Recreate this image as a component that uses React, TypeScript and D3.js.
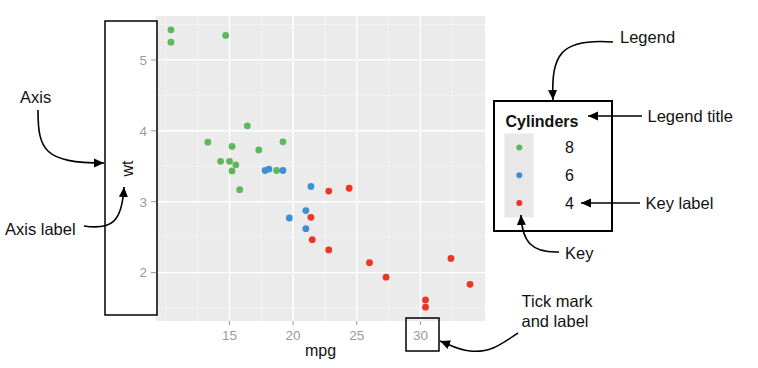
import React from "react";
import * as d3 from "d3";

// mtcars: mpg, wt, cyl
const mpg = [21.0, 21.0, 22.8, 21.4, 18.7, 18.1, 14.3, 24.4, 22.8, 19.2, 17.8, 16.4, 17.3, 15.2, 10.4, 10.4,
  14.7, 32.4, 30.4, 33.9, 21.5, 15.5, 15.2, 13.3, 19.2, 27.3, 26.0, 30.4, 15.8, 19.7, 15.0, 21.4];
const wt = [2.62, 2.875, 2.32, 3.215, 3.44, 3.46, 3.57, 3.19, 3.15, 3.44, 3.44, 4.07, 3.73, 3.78, 5.25, 5.424,
  5.345, 2.2, 1.615, 1.835, 2.465, 3.52, 3.435, 3.84, 3.845, 1.935, 2.14, 1.513, 3.17, 2.77, 3.57, 2.78];
const cyl = [6, 6, 4, 6, 8, 6, 8, 4, 4, 6, 6, 8, 8, 8, 8, 8, 8, 4, 4, 4, 4, 8, 8, 8, 8, 4, 4, 4, 8, 6, 8, 4];

const cylLevels = [8, 6, 4];
const cylColors = ["#5cb85a", "#3d8fd1", "#ee3424"];
const xTicks = [15, 20, 25, 30];
const xMinor = [10, 12.5, 17.5, 22.5, 27.5, 32.5];
const yTicks = [2, 3, 4, 5];
const yMinor = [1.5, 2.5, 3.5, 4.5, 5.5];

const FONT = "'Liberation Sans', Arial, Helvetica, sans-serif";

function expand(ext: [number, number]): [number, number] {
  const pad = (ext[1] - ext[0]) * 0.05;
  return [ext[0] - pad, ext[1] + pad];
}

const App: React.FC = () => {
  const width = 758;
  const height = 368;
  const panel = { left: 156, right: 485, top: 16, bottom: 321 };

  const x = d3.scaleLinear().domain(expand(d3.extent(mpg) as [number, number])).range([panel.left, panel.right]);
  const y = d3.scaleLinear().domain(expand(d3.extent(wt) as [number, number])).range([panel.bottom, panel.top]);
  const color = d3.scaleOrdinal<number, string>().domain(cylLevels).range(cylColors);

  const legendY = d3.scalePoint<number>().domain(cylLevels).range([147.5, 203]);

  return (
    <svg width={width} height={height} style={{ position: "absolute", left: 0, top: 0, background: "#fff" }}
      fontFamily={FONT}>
      <defs>
        <marker id="arrow" viewBox="0 0 10 10" refX="10" refY="5" markerWidth="10" markerHeight="10"
          markerUnits="userSpaceOnUse" orient="auto">
          <path d="M0,0.5 L10,5 L0,9.5 Z" fill="#000" />
        </marker>
      </defs>

      {/* panel */}
      <rect x={panel.left} y={panel.top} width={panel.right - panel.left} height={panel.bottom - panel.top}
        fill="#ebebeb" />
      {xMinor.map(v => (
        <line key={"xm" + v} x1={x(v)} x2={x(v)} y1={panel.top} y2={panel.bottom} stroke="#f5f5f5" strokeWidth={0.8} />
      ))}
      {yMinor.map(v => (
        <line key={"ym" + v} y1={y(v)} y2={y(v)} x1={panel.left} x2={panel.right} stroke="#f5f5f5" strokeWidth={0.8} />
      ))}
      {xTicks.map(v => (
        <line key={"xg" + v} x1={x(v)} x2={x(v)} y1={panel.top} y2={panel.bottom} stroke="#fff" strokeWidth={1.4} />
      ))}
      {yTicks.map(v => (
        <line key={"yg" + v} y1={y(v)} y2={y(v)} x1={panel.left} x2={panel.right} stroke="#fff" strokeWidth={1.4} />
      ))}

      {/* points */}
      {mpg.map((m, i) => (
        <circle key={i} cx={x(m)} cy={y(wt[i])} r={3.4} fill={color(cyl[i])} />
      ))}

      {/* axes */}
      {xTicks.map(v => (
        <g key={"xt" + v}>
          <line x1={x(v)} x2={x(v)} y1={panel.bottom} y2={panel.bottom + 4} stroke="#999" />
          <text x={x(v)} y={340} textAnchor="middle" fontSize={13.5} fill="#9a9a9a">{v}</text>
        </g>
      ))}
      {yTicks.map(v => (
        <g key={"yt" + v}>
          <line x1={panel.left - 5} x2={panel.left} y1={y(v)} y2={y(v)} stroke="#999" />
          <text x={147} y={y(v)} dy="0.36em" textAnchor="end" fontSize={13.5} fill="#9a9a9a">{v}</text>
        </g>
      ))}
      <text x={(panel.left + panel.right) / 2} y={356} textAnchor="middle" fontSize={16} fill="#111">mpg</text>
      <text transform={`translate(133,${(panel.top + panel.bottom) / 2}) rotate(-90)`} textAnchor="middle"
        fontSize={16} fill="#111">wt</text>

      {/* legend */}
      <rect x={494} y={101} width={118} height={130} fill="#fff" stroke="#000" strokeWidth={2} />
      <text x={505.5} y={126.5} fontSize={16} fontWeight="bold" fill="#111">Cylinders</text>
      <rect x={504.5} y={133.5} width={29} height={84} fill="#e8e8e8" />
      {cylLevels.map(c => (
        <g key={"lg" + c}>
          <circle cx={519.3} cy={legendY(c)} r={3} fill={color(c)} />
          <text x={565} y={legendY(c)} dy="0.36em" fontSize={16} fill="#111">{c}</text>
        </g>
      ))}

      {/* highlight boxes */}
      <rect x={105} y={21} width={52} height={294} fill="none" stroke="#000" strokeWidth={1.5} />
      <rect x={406} y={318} width={33} height={33} fill="none" stroke="#000" strokeWidth={1.5} />

      {/* annotations */}
      <g fontSize={16.5} fill="#111">
        <text x={20} y={103}>Axis</text>
        <text x={5} y={235}>Axis label</text>
        <text x={620} y={43}>Legend</text>
        <text x={647.5} y={121.5}>Legend title</text>
        <text x={645.5} y={208.5}>Key label</text>
        <text x={565} y={258.5}>Key</text>
        <text x={521.5} y={307}>Tick mark</text>
        <text x={521.5} y={327}>and label</text>
      </g>
      <g fill="none" stroke="#000" strokeWidth={1.6} markerEnd="url(#arrow)">
        <path d="M38,110 C38,150 44,163 104,163" />
        <path d="M84,226 C112,230 122,222 124,187" />
        <path d="M613,42 C560,38 551,55 553,100" />
        <path d="M642,116 L588,116" />
        <path d="M640,203 L581,203" />
        <path d="M559,252 C532,253 522,242 521,215" />
        <path d="M518,333 C500,345 490,353 470,351 C458,350 450,345 440,341" />
      </g>
    </svg>
  );
};

export default App;
